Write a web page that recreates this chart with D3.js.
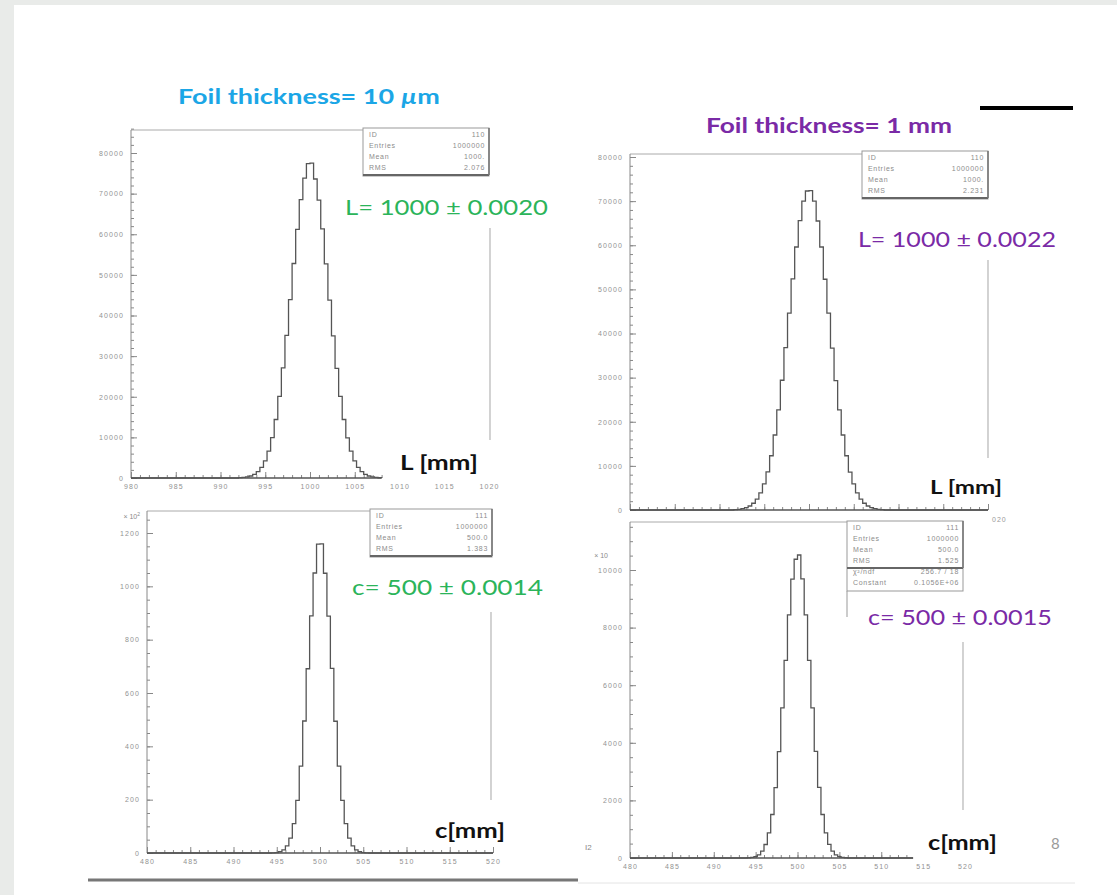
<!DOCTYPE html>
<html>
<head>
<meta charset="utf-8">
<script src="https://cdn.jsdelivr.net/npm/d3@7"></script>
<style>
  body { margin: 0; background: #e9ebe9; }
  svg { display: block; }
</style>
</head>
<body>
<div id="plot_area"></div>
<script>
// Page size
const w = 1117;
const h = 895;

// Histogram binning (all four plots use 0.4 mm bins)
const binWidth = 0.4;

// Foil 10 um, L distribution (counts per bin)
const tlLowEdge = 992.0;
const tlCounts = [70, 130, 260, 490, 890, 1550, 2610, 4230, 6600, 9930,
                  14400, 20100, 27100, 35100, 43900, 52800, 61200, 68500, 73800, 77400,
                  77500, 73600, 68400, 61300, 52700, 43800, 35000, 27000, 20100, 14400,
                  9900, 6600, 4200, 2600, 1550, 900, 490, 260, 130, 60];

// Foil 10 um, c distribution (counts per bin, x 10^2)
const blLowEdge = 494.4;
const blCounts = [0.6, 1.7, 4.6, 11.5, 27, 56, 110, 197, 326, 495, 691, 889, 1050, 1158,
                  1159, 1049, 888, 692, 494, 326, 197, 110, 56, 27, 11.5, 4.6, 1.7, 0.6];

// Foil 1 mm, L distribution (counts per bin)
const trLowEdge = 991.6;
const trCounts = [85, 160, 295, 530, 910, 1530, 2480, 3880, 5900, 8650, 12300,
                  17000, 22700, 29400, 36800, 44600, 52400, 59600, 65600, 70000, 72300,
                  72400, 70000, 65500, 59600, 52300, 44600, 36700, 29300, 22700, 17000,
                  12300, 8600, 5900, 3870, 2470, 1530, 910, 530, 295, 160, 85];

// Foil 1 mm, c distribution (counts per bin, x 10)
const brLowEdge = 494.0;
const brCounts = [8, 20, 48, 111, 236, 469, 872, 1511, 2446, 3696, 5214, 6865, 8439, 9684, 10374,
                  10520, 9690, 8440, 6860, 5210, 3700, 2450, 1510, 870, 470, 236, 111, 48, 20, 8];

// Tick values
const xTicksL = [980, 985, 990, 995, 1000, 1005, 1010, 1015, 1020];
const xTicksC = [480, 485, 490, 495, 500, 505, 510, 515, 520];
const yTicksL = [0, 10000, 20000, 30000, 40000, 50000, 60000, 70000, 80000];
const yTicksBL = [0, 200, 400, 600, 800, 1000, 1200];
const yTicksBR = [0, 2000, 4000, 6000, 8000, 10000];

// Statistics boxes
const statsTL = [['ID', '110'], ['Entries', '1000000'], ['Mean', '1000.'], ['RMS', '2.076']];
const statsBL = [['ID', '111'], ['Entries', '1000000'], ['Mean', '500.0'], ['RMS', '1.383']];
const statsTR = [['ID', '110'], ['Entries', '1000000'], ['Mean', '1000.'], ['RMS', '2.231']];
const statsBR = [['ID', '111'], ['Entries', '1000000'], ['Mean', '500.0'], ['RMS', '1.525']];
const fitBR = [['\u03c7\u00b2/ndf', '256.7  /  18'], ['Constant', '0.1056E+06']];

// Result labels
const titles = ['Foil thickness= 10 ', 'Foil thickness= 1 mm'];
const results = ['L= 1000 \u00b1 0.0020', 'c= 500 \u00b1 0.0014', 'L= 1000 \u00b1 0.0022', 'c= 500 \u00b1 0.0015'];

const green = '#2bb45a';
const purple = '#7a2aa6';
const blue = '#1ba6e6';
const small = 'Liberation Sans, sans-serif';

const svg = d3.select('#plot_area')
  .append('svg')
  .attr('width', w)
  .attr('height', h);

// Slide background
svg.append('rect').attr('width', w).attr('height', h).attr('fill', '#e9ebe9');
svg.append('rect').attr('x', 14).attr('y', 5).attr('width', w - 14).attr('height', h - 5).attr('fill', '#ffffff');

// Draw one histogram panel
function drawPanel(p) {
  const x = d3.scaleLinear().domain(p.xDomain).range(p.xRange);
  const y = d3.scaleLinear().domain(p.yDomain).range(p.yRange);
  const g = svg.append('g');

  // Frame: top edge and faint right edge
  g.append('line')
    .attr('x1', p.xRange[0]).attr('x2', p.frameTopEnd)
    .attr('y1', p.frameTop).attr('y2', p.frameTop)
    .attr('stroke', '#aaa').attr('stroke-width', 1);
  g.append('line')
    .attr('x1', p.rightLine[0]).attr('x2', p.rightLine[0])
    .attr('y1', p.rightLine[1]).attr('y2', p.rightLine[2])
    .attr('stroke', '#b5b5b5').attr('stroke-width', 1.2);

  // Y axis: major and minor ticks pointing inside
  const yMinor = d3.range(p.yDomain[0], p.yTop + 1e-6, p.yMinorStep);
  g.append('g')
    .attr('transform', 'translate(' + p.xRange[0] + ',0)')
    .call(d3.axisLeft(y).tickValues(yMinor).tickSize(-3).tickFormat(''))
    .call(a => a.select('.domain').remove());
  g.append('g')
    .attr('transform', 'translate(' + p.xRange[0] + ',0)')
    .call(d3.axisLeft(y).tickValues(p.yTicks).tickSize(-6).tickPadding(7).tickFormat(d3.format('d')))
    .call(a => a.select('.domain').remove());
  g.append('line')
    .attr('x1', p.xRange[0]).attr('x2', p.xRange[0])
    .attr('y1', y(0)).attr('y2', p.frameTop)
    .attr('stroke', '#888').attr('stroke-width', 1);

  // X axis: ticks only along the drawn axis line
  const xMinor = d3.range(p.xDomain[0], p.xAxisEnd + 1e-6, 1);
  g.append('g')
    .attr('transform', 'translate(0,' + y(0) + ')')
    .call(d3.axisBottom(x).tickValues(xMinor).tickSize(-3).tickFormat(''))
    .call(a => a.select('.domain').remove());
  g.append('g')
    .attr('transform', 'translate(0,' + y(0) + ')')
    .call(d3.axisBottom(x).tickValues(p.xTicks.filter(v => v <= p.xAxisEnd)).tickSize(-6).tickFormat(''))
    .call(a => a.select('.domain').remove());
  if (p.showXLabels) {
    g.append('g')
      .attr('transform', 'translate(0,' + y(0) + ')')
      .call(d3.axisBottom(x).tickValues(p.xTicks).tickSize(0).tickPadding(6).tickFormat(d3.format('d')))
      .call(a => a.select('.domain').remove());
  }
  g.append('line')
    .attr('x1', p.xRange[0]).attr('x2', x(p.xAxisEnd))
    .attr('y1', y(0)).attr('y2', y(0))
    .attr('stroke', '#555').attr('stroke-width', 1.4);

  g.selectAll('.tick line').attr('stroke', '#888');
  g.selectAll('.tick text')
    .attr('fill', '#929292')
    .style('font-family', small)
    .style('font-size', '7px')
    .style('letter-spacing', '1.1px');

  // Histogram as a step line
  const pts = [[p.xDomain[0], 0]];
  p.counts.forEach((c, i) => pts.push([p.lowEdge + i * binWidth, c]));
  pts.push([p.lowEdge + p.counts.length * binWidth, 0]);
  pts.push([p.xAxisEnd, 0]);
  g.append('path')
    .datum(pts)
    .attr('fill', 'none')
    .attr('stroke', '#555')
    .attr('stroke-width', 1.3)
    .attr('d', d3.line().curve(d3.curveStepAfter)
      .x(d => x(d[0]))
      .y(d => y(d[1])));

  // Statistics box
  const rows = p.stats.concat(p.fit || []);
  const bx = p.box[0], by = p.box[1], bw = p.box[2];
  const bh = rows.length * 11 + 4;
  g.append('rect')
    .attr('x', bx).attr('y', by).attr('width', bw).attr('height', bh)
    .attr('fill', '#fff').attr('stroke', '#999').attr('stroke-width', 1);
  g.append('line')
    .attr('x1', bx).attr('x2', bx + bw)
    .attr('y1', by + p.stats.length * 11 + 3).attr('y2', by + p.stats.length * 11 + 3)
    .attr('stroke', '#666').attr('stroke-width', 2);
  g.append('line')
    .attr('x1', bx + bw).attr('x2', bx + bw)
    .attr('y1', by).attr('y2', by + p.stats.length * 11 + 3)
    .attr('stroke', '#777').attr('stroke-width', 1.6);
  if (p.boxTail) {
    g.append('line')
      .attr('x1', bx).attr('x2', bx)
      .attr('y1', by + bh).attr('y2', p.boxTail)
      .attr('stroke', '#999').attr('stroke-width', 1);
  }
  rows.forEach((r, i) => {
    g.append('text')
      .attr('x', bx + 6).attr('y', by + 9 + i * 11)
      .attr('fill', '#8c8c8c')
      .style('font-family', small)
      .style('font-size', '7px')
      .style('letter-spacing', '0.7px')
      .text(r[0]);
    g.append('text')
      .attr('x', bx + bw - 4).attr('y', by + 9 + i * 11)
      .attr('text-anchor', 'end')
      .attr('fill', '#8c8c8c')
      .style('font-family', small)
      .style('font-size', '7px')
      .style('letter-spacing', '0.7px')
      .text(r[1]);
  });

  // Axis multiplier label
  if (p.mult) {
    const t = g.append('text')
      .attr('x', p.mult[0]).attr('y', p.mult[1])
      .attr('text-anchor', 'end')
      .attr('fill', '#8a8a8a')
      .style('font-family', small)
      .style('font-size', '7px')
      .text(p.mult[2]);
    if (p.mult[3]) t.append('tspan').attr('dy', -3).style('font-size', '5px').text(p.mult[3]);
  }
}

drawPanel({
  xDomain: [980, 1020], xRange: [131, 489], xAxisEnd: 1008, xTicks: xTicksL, showXLabels: true,
  yDomain: [0, 80000], yRange: [478, 153], yTop: 86000, yMinorStep: 2000, yTicks: yTicksL,
  frameTop: 130, frameTopEnd: 363, rightLine: [490, 228, 440],
  lowEdge: tlLowEdge, counts: tlCounts,
  stats: statsTL, box: [363, 128, 126]
});

drawPanel({
  xDomain: [480, 520], xRange: [147, 493], xAxisEnd: 520, xTicks: xTicksC, showXLabels: true,
  yDomain: [0, 1200], yRange: [853, 533], yTop: 1250, yMinorStep: 50, yTicks: yTicksBL,
  frameTop: 511, frameTopEnd: 370, rightLine: [491, 612, 800],
  lowEdge: blLowEdge, counts: blCounts,
  stats: statsBL, box: [370, 509, 122], mult: [140, 519, '\u00d7 10', '2']
});

drawPanel({
  xDomain: [980, 1020], xRange: [630, 988], xAxisEnd: 1020, xTicks: xTicksL, showXLabels: false,
  yDomain: [0, 80000], yRange: [510, 157], yTop: 80000, yMinorStep: 2000, yTicks: yTicksL,
  frameTop: 154, frameTopEnd: 862, rightLine: [988, 260, 458],
  lowEdge: trLowEdge, counts: trCounts,
  stats: statsTR, box: [862, 151, 126]
});

drawPanel({
  xDomain: [480, 520], xRange: [630, 965], xAxisEnd: 513.8, xTicks: xTicksC, showXLabels: true,
  yDomain: [0, 10000], yRange: [858, 570], yTop: 11500, yMinorStep: 500, yTicks: yTicksBR,
  frameTop: 522, frameTopEnd: 847, rightLine: [963, 642, 810],
  lowEdge: brLowEdge, counts: brCounts,
  stats: statsBR, fit: fitBR, box: [847, 521, 116], boxTail: 617, mult: [608, 558, '\u00d7 10']
});

// Hidden part of the upper right x labels
svg.append('text')
  .attr('x', 992).attr('y', 522)
  .attr('fill', '#999')
  .style('font-family', small)
  .style('font-size', '7px')
  .style('letter-spacing', '1px')
  .text('020');

// Big slide labels
function bigText(txt, x, y, len, size, color, weight) {
  return svg.append('text')
    .attr('x', x).attr('y', y)
    .attr('fill', color)
    .attr('textLength', len)
    .attr('lengthAdjust', 'spacingAndGlyphs')
    .style('font-family', 'Lato, sans-serif')
    .style('font-weight', weight)
    .style('font-size', size + 'px')
    .text(txt);
}

const t1 = bigText(titles[0], 178, 104, 262, 21, blue, 'bold');
t1.append('tspan').style('font-style', 'italic').text('\u00b5');
t1.append('tspan').text('m');
bigText(titles[1], 706, 133, 246, 21, purple, 'bold');

svg.append('line')
  .attr('x1', 980).attr('x2', 1073)
  .attr('y1', 108).attr('y2', 108)
  .attr('stroke', '#000').attr('stroke-width', 4);

bigText(results[0], 345, 215, 203, 22, green, 'normal');
bigText(results[1], 352, 595, 191, 22, green, 'normal');
bigText(results[2], 858, 247, 198, 22, purple, 'normal');
bigText(results[3], 868, 625, 184, 22, purple, 'normal');

bigText('L [mm]', 400, 470, 78, 21, '#111', 'bold');
bigText('L [mm]', 930, 494, 72, 19, '#111', 'bold');
bigText('c[mm]', 435, 838, 70, 21, '#111', 'bold');
bigText('c[mm]', 928, 850, 69, 21, '#111', 'bold');

// Page number and scan marks
svg.append('text')
  .attr('x', 1051).attr('y', 849)
  .attr('fill', '#9a9a9a')
  .style('font-family', 'Lato, sans-serif')
  .style('font-size', '15px')
  .text('8');
svg.append('text')
  .attr('x', 585).attr('y', 850)
  .attr('fill', '#888')
  .style('font-family', small)
  .style('font-size', '8px')
  .text('I2');

// Bottom rules
svg.append('line')
  .attr('x1', 88).attr('x2', 578)
  .attr('y1', 880).attr('y2', 880)
  .attr('stroke', '#777').attr('stroke-width', 3);
svg.append('line')
  .attr('x1', 578).attr('x2', 1075)
  .attr('y1', 883).attr('y2', 883)
  .attr('stroke', '#e4e4e4').attr('stroke-width', 1);
</script>
</body>
</html>
